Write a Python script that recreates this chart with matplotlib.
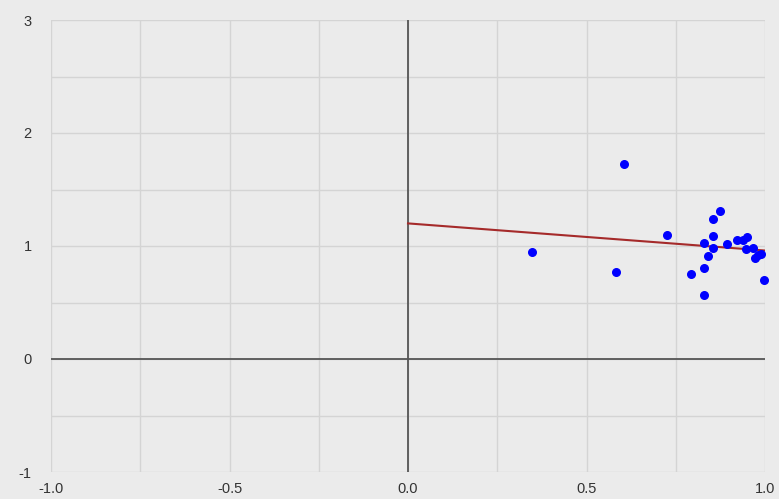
import matplotlib.pyplot as plt
import numpy as np

# scatter points
pts_x = [0.346, 0.582, 0.606, 0.725, 0.792, 0.829, 0.828, 0.841, 0.830, 0.853,
         0.853, 0.855, 0.875, 0.893, 0.922, 0.939, 0.950, 0.946, 0.965, 0.972,
         0.981, 0.988, 0.997]
pts_y = [0.944, 0.767, 1.723, 1.100, 0.755, 0.566, 0.808, 0.909, 1.029, 0.979,
         1.088, 1.236, 1.312, 1.020, 1.056, 1.053, 1.077, 0.971, 0.979, 0.891,
         0.920, 0.927, 0.699]

# trend line
line_x = [0.0, 1.0]
line_y = [1.20, 0.96]

x_ticks = [-1.0, -0.5, 0.0, 0.5, 1.0]
x_labels = ["-1.0", "-0.5", "0.0", "0.5", "1.0"]
y_ticks = [-1, 0, 1, 2, 3]
y_labels = ["-1", "0", "1", "2", "3"]

plt.rcParams['font.family'] = ['Liberation Sans', 'DejaVu Sans']

fig = plt.figure(figsize=(7.79, 4.99), dpi=100)
fig.patch.set_facecolor('#ebebeb')
ax = fig.add_axes([51 / 779, 1 - 472 / 499, 714 / 779, 452 / 499])
ax.set_facecolor('#ebebeb')

ax.set_xlim(-1, 1)
ax.set_ylim(-1, 3)
ax.set_xticks(x_ticks)
ax.set_xticklabels(x_labels)
ax.set_yticks(y_ticks)
ax.set_yticklabels(y_labels)
ax.set_xticks(np.arange(-1, 1.01, 0.25), minor=True)
ax.set_yticks(np.arange(-1, 3.01, 0.5), minor=True)
ax.grid(which='both', color='#d4d4d4', linewidth=1.0)
ax.tick_params(which='both', length=0, colors='#333333', labelsize=10.5)
ax.tick_params(axis='x', pad=7)
ax.tick_params(axis='y', pad=14)
for s in ax.spines.values():
    s.set_visible(False)
ax.set_axisbelow(True)

ax.axhline(0, color='#555555', linewidth=1.3, zorder=1)
ax.axvline(0, color='#555555', linewidth=1.3, zorder=1)

ax.plot(line_x, line_y, color='#a52a2a', linewidth=1.5, zorder=2)
ax.scatter(pts_x, pts_y, s=30, color='#0000ff', zorder=3, clip_on=False)

plt.savefig('out.png', dpi=100, facecolor=fig.get_facecolor())
